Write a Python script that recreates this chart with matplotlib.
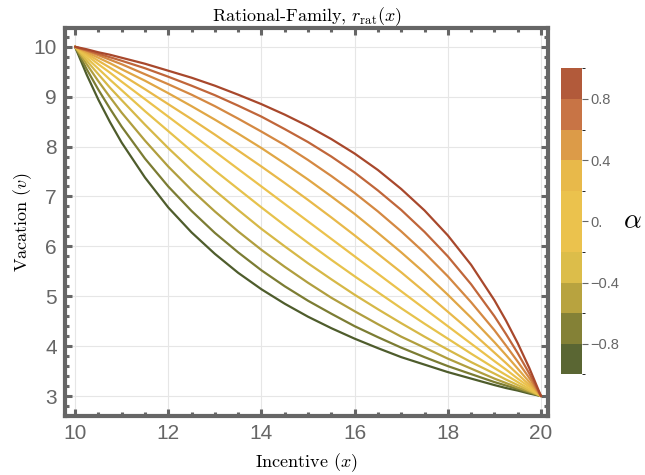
import numpy as np
import matplotlib.pyplot as plt
from matplotlib.colors import ListedColormap, BoundaryNorm
from matplotlib.cm import ScalarMappable

plt.rcParams['mathtext.fontset'] = 'cm'

###############################################################################
# Data
incentive = [10, 10.25, 10.5, 10.75, 11, 11.5, 12, 12.5, 13, 13.5, 14, 14.5, 15,
             15.5, 16, 16.5, 17, 17.5, 18, 18.5, 19, 19.25, 19.5, 19.75, 20]

alpha_vals = [-1.0, -0.8, -0.6, -0.4, -0.2, 0.0, 0.2, 0.4, 0.6, 0.8, 1.0]

vac_m10 = [10, 9.44, 8.94, 8.49, 8.08, 7.38, 6.78, 6.28, 5.85, 5.47, 5.14, 4.85, 4.59,
           4.36, 4.15, 3.96, 3.78, 3.63, 3.48, 3.35, 3.22, 3.16, 3.11, 3.05, 3]
vac_m08 = [10, 9.55, 9.14, 8.76, 8.40, 7.76, 7.20, 6.71, 6.27, 5.88, 5.52, 5.20, 4.91,
           4.65, 4.40, 4.18, 3.97, 3.78, 3.60, 3.44, 3.28, 3.21, 3.14, 3.07, 3]
vac_m06 = [10, 9.65, 9.31, 8.99, 8.68, 8.12, 7.60, 7.13, 6.70, 6.30, 5.93, 5.59, 5.27,
           4.97, 4.70, 4.44, 4.19, 3.97, 3.75, 3.55, 3.35, 3.26, 3.17, 3.09, 3]
vac_m04 = [10, 9.72, 9.45, 9.18, 8.93, 8.44, 7.97, 7.53, 7.12, 6.73, 6.35, 6.00, 5.66,
           5.34, 5.03, 4.74, 4.46, 4.19, 3.93, 3.68, 3.45, 3.33, 3.22, 3.11, 3]
vac_m02 = [10, 9.78, 9.56, 9.34, 9.13, 8.71, 8.31, 7.91, 7.52, 7.15, 6.78, 6.42, 6.07,
           5.73, 5.40, 5.08, 4.76, 4.45, 4.15, 3.85, 3.56, 3.42, 3.28, 3.14, 3]
vac_p00 = [10, 9.83, 9.65, 9.48, 9.30, 8.95, 8.60, 8.25, 7.90, 7.55, 7.20, 6.85, 6.50,
           6.15, 5.80, 5.45, 5.10, 4.75, 4.40, 4.05, 3.70, 3.53, 3.35, 3.18, 3]
vac_p02 = [10, 9.86, 9.72, 9.58, 9.44, 9.15, 8.85, 8.55, 8.24, 7.92, 7.60, 7.27, 6.93,
           6.58, 6.22, 5.85, 5.48, 5.09, 4.69, 4.29, 3.87, 3.66, 3.44, 3.22, 3]
vac_p04 = [10, 9.89, 9.78, 9.67, 9.55, 9.32, 9.07, 8.81, 8.54, 8.26, 7.97, 7.66, 7.34,
           7.00, 6.65, 6.27, 5.88, 5.47, 5.03, 4.57, 4.08, 3.82, 3.55, 3.28, 3]
vac_p06 = [10, 9.92, 9.83, 9.74, 9.65, 9.45, 9.25, 9.04, 8.81, 8.56, 8.30, 8.03, 7.73,
           7.41, 7.07, 6.70, 6.30, 5.87, 5.40, 4.88, 4.32, 4.01, 3.69, 3.36, 3]
vac_p08 = [10, 9.93, 9.86, 9.79, 9.72, 9.57, 9.40, 9.22, 9.03, 8.82, 8.60, 8.35, 8.09,
           7.80, 7.48, 7.12, 6.73, 6.29, 5.80, 5.24, 4.60, 4.24, 3.86, 3.45, 3]
vac_p10 = [10, 9.95, 9.89, 9.84, 9.78, 9.66, 9.52, 9.38, 9.22, 9.04, 8.85, 8.64, 8.41,
           8.15, 7.86, 7.53, 7.15, 6.72, 6.22, 5.63, 4.92, 4.51, 4.06, 3.56, 3]

curves = [vac_m10, vac_m08, vac_m06, vac_m04, vac_m02, vac_p00,
          vac_p02, vac_p04, vac_p06, vac_p08, vac_p10]

line_colors = ['#4e5c2c', '#7b7c33', '#b09e3e', '#d6b847', '#e6c24c', '#ebc24d',
               '#e8b94a', '#e0a645', '#d48842', '#c0663a', '#a8482c']

band_edges = [-1.0, -0.8, -0.6, -0.4, -0.2, 0.0, 0.2, 0.4, 0.6, 0.8, 1.0]
band_colors = ['#5a6633', '#848136', '#b8a33f', '#dcbd4a', '#ebc24d',
               '#ebc24d', '#e8b94a', '#dc9b48', '#c87445', '#b25a3a']
cbar_ticks = [-0.8, -0.4, 0.0, 0.4, 0.8]
cbar_labels = ['\u22120.8', '\u22120.4', '0.', '0.4', '0.8']

x_major = [10, 12, 14, 16, 18, 20]
y_major = [3, 4, 5, 6, 7, 8, 9, 10]

###############################################################################
# Plot
gray = '#666666'
fig = plt.figure(figsize=(6.45, 4.75), dpi=100)
ax = fig.add_axes([0.1012, 0.1242, 0.7484, 0.8162])

for v, c in zip(curves, line_colors):
    ax.plot(incentive, v, color=c, lw=1.6, solid_capstyle='round',
            solid_joinstyle='round', zorder=3)

ax.set_xticks(x_major)
ax.set_xticks(np.arange(10, 20.01, 0.5), minor=True)
ax.set_yticks(y_major)
ax.set_yticks(np.arange(2.6, 10.41, 0.2), minor=True)
# limits after the ticks, set_ticks would widen them otherwise
ax.set_xlim(9.79, 20.15)
ax.set_ylim(2.60, 10.37)
ax.grid(True, which='major', color='#e6e6e6', lw=0.8)
ax.set_axisbelow(True)

for s in ax.spines.values():
    s.set_color(gray)
    s.set_linewidth(3)

ax.tick_params(which='both', direction='in', top=True, right=True,
               color=gray, labelcolor=gray)
ax.tick_params(which='major', length=5, width=2.2, labelsize=15, pad=6)
ax.tick_params(which='minor', length=2.8, width=2.2)
for lab in ax.get_xticklabels() + ax.get_yticklabels():
    lab.set_fontfamily('Liberation Sans')

ax.set_title('Rational-Family, $r_{\\rm rat}(x)$', fontfamily='cmr10',
             fontsize=13, pad=5)
ax.set_xlabel('Incentive $(x)$', fontfamily='cmr10', fontsize=13, labelpad=6)
ax.set_ylabel('Vacation $(v)$', fontfamily='cmr10', fontsize=13, labelpad=0)

# discrete colour legend
cax = fig.add_axes([0.8698, 0.212, 0.032, 0.644])
cmap = ListedColormap(band_colors)
norm = BoundaryNorm(band_edges, cmap.N)
cb = fig.colorbar(ScalarMappable(norm=norm, cmap=cmap), cax=cax, ticks=cbar_ticks)
cb.outline.set_visible(False)
cb.set_ticklabels(cbar_labels)
cax.tick_params(length=4, width=0.8, color=gray, labelcolor=gray,
                labelsize=10.5, pad=2)
for lab in cax.get_yticklabels():
    lab.set_fontfamily('Liberation Sans')

fig.text(0.981, 0.537, r'$\alpha$', fontsize=20, ha='center', va='center')

plt.savefig('out.png', dpi=100)
